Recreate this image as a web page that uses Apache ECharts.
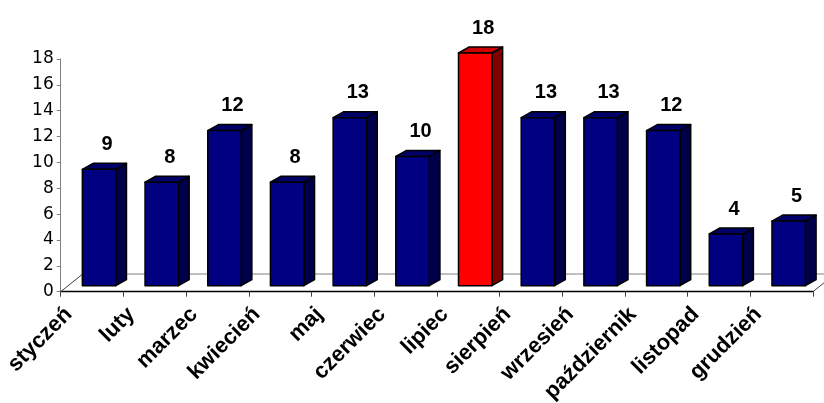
<!DOCTYPE html>
<html>
<head>
<meta charset="utf-8">
<script src="https://cdn.jsdelivr.net/npm/echarts@6/dist/echarts.min.js"></script>
<style>
html,body{margin:0;padding:0;background:#fff;}
#chart{width:824px;height:403px;}
</style>
</head>
<body>
<div id="chart"></div>
<script>
const categories = ['styczeń','luty','marzec','kwiecień','maj','czerwiec','lipiec','sierpień','wrzesień','październik','listopad','grudzień'];
const values = [9, 8, 12, 8, 13, 10, 18, 13, 13, 12, 4, 5];
const yTicks = [0, 2, 4, 6, 8, 10, 12, 14, 16, 18];
const highlighted = 'lipiec';

const FONT = '"Liberation Sans", Arial, sans-serif';
const normalColors = { front: '#000080', top: '#000068', side: '#00004a' };
const hiColors = { front: '#ff0000', top: '#cc0000', side: '#800000' };

const chart = echarts.init(document.getElementById('chart'), null, { renderer: 'canvas' });

function floorItem(params, api) {
  const cs = params.coordSys;
  const x0 = cs.x, x1 = cs.x + cs.width;
  const y0 = api.coord([0, 0])[1];
  const ddx = 22, ddy = 17.7;
  const st = { stroke: '#808080', lineWidth: 1, fill: null };
  return {
    type: 'group',
    children: [
      { type: 'line', shape: { x1: x0 + ddx, y1: y0 - ddy, x2: x1 + ddx, y2: y0 - ddy }, style: st },
      { type: 'line', shape: { x1: x0, y1: y0, x2: x0 + ddx, y2: y0 - ddy }, style: { stroke: '#404040', lineWidth: 1 } },
      { type: 'line', shape: { x1: x1, y1: y0, x2: x1 + ddx, y2: y0 - ddy }, style: { stroke: '#404040', lineWidth: 1 } }
    ]
  };
}

function barItem(params, api) {
  const i = api.value(0), v = api.value(1);
  const base = api.coord([i, 0]);
  const top = api.coord([i, v]);
  const band = api.size([1, 0])[0];
  const w = band * 0.533;
  const cx = base[0] + band * 0.112;
  const lift = 6, dx = 10.7, dy = 6;
  const xL = cx - w / 2, xR = cx + w / 2;
  const yB = base[1] - lift, yT = top[1] - lift;
  const c = categories[i] === highlighted ? hiColors : normalColors;
  const edge = { stroke: '#000', lineWidth: 1.5, lineJoin: 'round' };
  return {
    type: 'group',
    children: [
      { type: 'polygon', shape: { points: [[xR, yT], [xR + dx, yT - dy], [xR + dx, yB - dy], [xR, yB]] },
        style: Object.assign({ fill: c.side }, edge) },
      { type: 'polygon', shape: { points: [[xL, yT], [xR, yT], [xR + dx, yT - dy], [xL + dx, yT - dy]] },
        style: Object.assign({ fill: c.top }, edge) },
      { type: 'rect', shape: { x: xL, y: yT, width: w, height: yB - yT },
        style: Object.assign({ fill: c.front }, edge) },
      { type: 'text', x: cx + 8, y: yT - 25,
        style: { text: String(v), fill: '#000', font: 'bold 20px ' + FONT, align: 'center', verticalAlign: 'middle' } }
    ]
  };
}

const option = {
  backgroundColor: '#ffffff',
  animation: false,
  grid: { left: 60.7, right: 11, top: 59, bottom: 111.3, outerBoundsMode: 'none', containLabel: false },
  xAxis: {
    type: 'category',
    data: categories,
    boundaryGap: true,
    axisLine: { show: true, lineStyle: { color: '#000', width: 1.3 } },
    axisTick: { show: true, alignWithLabel: false, length: 5, lineStyle: { color: '#404040' } },
    axisLabel: {
      interval: 0, rotate: 45, margin: -4, padding: [0, 33, 0, 0],
      color: '#000', fontFamily: FONT, fontWeight: 'bold', fontSize: 22
    },
    splitLine: { show: false }
  },
  yAxis: {
    type: 'value',
    min: yTicks[0], max: yTicks[yTicks.length - 1], interval: yTicks[1] - yTicks[0],
    axisLine: { show: true, lineStyle: { color: '#808080', width: 1 } },
    axisTick: { show: true, length: 4, lineStyle: { color: '#808080' } },
    axisLabel: { color: '#000', fontFamily: '"DejaVu Sans", sans-serif', fontSize: 17, margin: 7 },
    splitLine: { show: false }
  },
  series: [
    { type: 'custom', name: 'floor', data: [[0, 0]], renderItem: floorItem, z: 1, silent: true },
    { type: 'custom', name: 'bars', data: categories.map((c, i) => [i, values[i]]), renderItem: barItem, z: 2,
      encode: { x: 0, y: 1 }, clip: false }
  ]
};
chart.setOption(option);
</script>
</body>
</html>
